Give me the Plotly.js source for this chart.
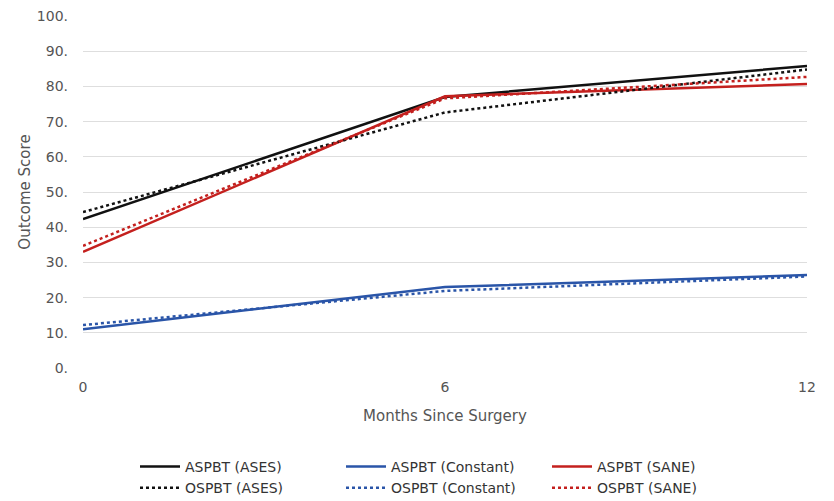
<!DOCTYPE html>
<html><head><meta charset="utf-8">
<script src="https://cdn.plot.ly/plotly-3.0.1.min.js"></script>
<style>html,body{margin:0;padding:0;background:#fff;}#chart{width:834px;height:501px;}</style>
</head><body><div id="chart"></div>
<script>
var months = [0, 6, 12];
var aspbtAses = [42.3, 77.0, 85.8];
var aspbtConstant = [11.0, 23.0, 26.4];
var aspbtSane = [33.0, 77.2, 80.7];
var ospbtAses = [44.3, 72.6, 84.8];
var ospbtConstant = [12.2, 21.9, 26.0];
var ospbtSane = [34.7, 76.6, 82.7];
var yTickVals = [0,10,20,30,40,50,60,70,80,90,100];
var yTickText = ["0.","10.","20.","30.","40.","50.","60.","70.","80.","90.","100."];

var black = "#111111", blue = "#2a55a8", red = "#c4201e";
function tr(name, y, color, dash){
  return {x: months, y: y, name: name, type: "scatter", mode: "lines",
    line: {color: color, width: 2.5, dash: dash ? "dot" : "solid"}};
}
var data = [
  tr("ASPBT (ASES)", aspbtAses, black, false),
  tr("ASPBT (Constant)", aspbtConstant, blue, false),
  tr("ASPBT (SANE)", aspbtSane, red, false),
  tr("OSPBT (ASES)", ospbtAses, black, true),
  tr("OSPBT (Constant)", ospbtConstant, blue, true),
  tr("OSPBT (SANE)", ospbtSane, red, true)
];
var layout = {
  width: 834, height: 501,
  margin: {l: 83, r: 27, t: 16, b: 133, autoexpand: false},
  paper_bgcolor: "#fff", plot_bgcolor: "#fff",
  font: {family: "DejaVu Sans, sans-serif", color: "#555", size: 14},
  showlegend: true,
  xaxis: {range: [0, 12], tickvals: [0, 6, 12], showgrid: false, zeroline: false,
    showline: false, ticks: "", tickfont: {size: 14, color: "#555"},
    ticklabelstandoff: 9,
    title: {text: "Months Since Surgery", font: {size: 15, color: "#555"}, standoff: 16}},
  yaxis: {range: [0, 100], tickvals: yTickVals, ticktext: yTickText, showgrid: true,
    gridcolor: "#dedede", gridwidth: 1, zeroline: false, showline: false, ticks: "",
    ticklabelstandoff: 14, tickfont: {size: 14, color: "#555"},
    title: {text: "Outcome Score", font: {size: 15, color: "#555"}, standoff: 2}},
  legend: {orientation: "h", x: 135/834, xref: "container", xanchor: "left",
    y: 0.10, yref: "container", yanchor: "top",
    entrywidth: 151, entrywidthmode: "pixels", itemwidth: 40, tracegroupgap: 0,
    font: {size: 14, color: "#333"}, bgcolor: "rgba(0,0,0,0)"}
};
Plotly.newPlot("chart", data, layout, {displayModeBar: false, staticPlot: true});
</script></body></html>
